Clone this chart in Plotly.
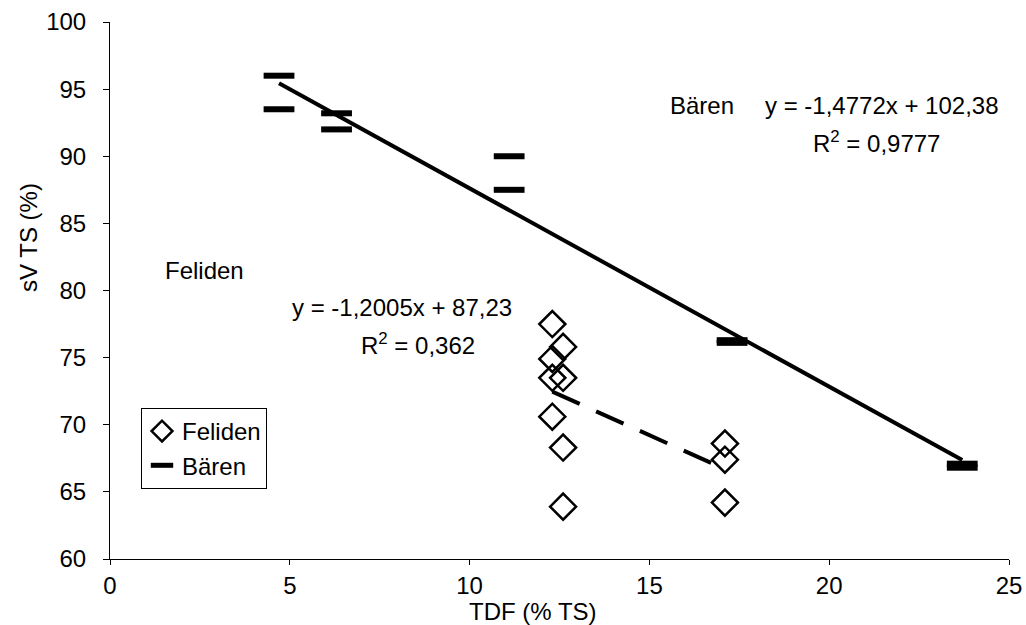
import plotly.graph_objects as go

# Feliden data
fel_x = [12.3, 12.6, 12.3, 12.3, 12.6, 12.3, 12.6, 12.6, 17.1, 17.1, 17.1]
fel_y = [77.5, 75.8, 74.9, 73.5, 73.5, 70.6, 68.3, 63.9, 68.6, 67.4, 64.2]

# Bären data
bar_x = [4.7, 4.7, 6.3, 6.3, 11.1, 11.1, 17.3, 17.3, 23.7, 23.7]
bar_y = [96.0, 93.5, 93.2, 92.0, 90.0, 87.5, 76.1, 76.3, 66.8, 67.1]

# trendline coefficients (from chart labels)
fel_slope, fel_icpt = -1.2005, 87.23
bar_slope, bar_icpt = -1.4772, 102.38

x_ticks = [0, 5, 10, 15, 20, 25]
y_ticks = [60, 65, 70, 75, 80, 85, 90, 95, 100]

x_title = "TDF (% TS)"
y_title = "sV TS (%)"

FONT = "Liberation Sans, Arial, sans-serif"
FS = 24

L, R, T, B = 110, 17, 22, 66
W, H = 1026, 625

fig = go.Figure()

bx = [min(bar_x), max(bar_x)]
fig.add_trace(go.Scatter(x=bx, y=[bar_slope * v + bar_icpt for v in bx], mode="lines",
                         line=dict(color="black", width=4), showlegend=False, hoverinfo="skip"))
fx = [min(fel_x), max(fel_x)]
fig.add_trace(go.Scatter(x=fx, y=[fel_slope * v + fel_icpt for v in fx], mode="lines",
                         line=dict(color="black", width=4, dash="30px,18px"), showlegend=False,
                         hoverinfo="skip"))

fig.add_trace(go.Scatter(x=fel_x, y=fel_y, mode="markers", name="Feliden",
                         marker=dict(symbol="diamond-open", size=20, color="black",
                                     line=dict(color="black", width=2.5))))
fig.add_trace(go.Scatter(x=bar_x, y=bar_y, mode="markers", name="Bären",
                         marker=dict(symbol="line-ew", size=22, color="black",
                                     line=dict(color="black", width=6))))

pw = W - L - R
ph = H - T - B


def px2x(px):
    return (px - L) / pw * 25


def py2y(py):
    return 100 - (py - T) / ph * 40


ann = [
    ("Bären", 668, 105, "left"),
    ("y = -1,4772x + 102,38", 763, 105, "left"),
    ("R<sup>2</sup> = 0,9777", 876, 142, "center"),
    ("Feliden", 163, 270, "left"),
    ("y = -1,2005x + 87,23", 290, 307, "left"),
    ("R<sup>2</sup> = 0,362", 418, 344, "center"),
]
for t, px, py, anc in ann:
    fig.add_annotation(x=px2x(px), y=py2y(py), text=t, showarrow=False, xanchor=anc,
                       yanchor="middle", font=dict(size=FS, color="black", family=FONT))

# axis titles (placed like the reference)
fig.add_annotation(xref="paper", yref="paper", x=(533 - L) / pw, y=(H - B - 611) / ph,
                   text=x_title, showarrow=False, xanchor="center", yanchor="middle",
                   font=dict(size=FS, color="black", family=FONT))
fig.add_annotation(xref="paper", yref="paper", x=(28 - L) / pw, y=(H - B - 238) / ph,
                   text=y_title, showarrow=False, xanchor="center", yanchor="middle",
                   textangle=-90, font=dict(size=FS, color="black", family=FONT))

fig.update_layout(
    width=W, height=H,
    margin=dict(l=L, r=R, t=T, b=B),
    paper_bgcolor="white", plot_bgcolor="white",
    font=dict(family=FONT, size=FS, color="black"),
    legend=dict(x=(141 - L) / pw, y=(H - B - 408) / ph, xanchor="left", yanchor="top",
                bordercolor="black", borderwidth=1, bgcolor="white",
                font=dict(size=FS), itemwidth=30, tracegroupgap=0),
)
fig.update_xaxes(range=[0, 25], tickvals=x_ticks, showgrid=False, zeroline=False,
                 showline=True, linecolor="black", linewidth=1, ticks="outside",
                 ticklen=5, tickcolor="black", automargin=False,
                 tickfont=dict(size=FS))
fig.update_yaxes(range=[60, 100], tickvals=y_ticks, showgrid=False, zeroline=False,
                 showline=True, linecolor="black", linewidth=1, ticks="outside",
                 ticklen=6, tickcolor="black", automargin=False, ticklabelstandoff=12,
                 tickfont=dict(size=FS))

fig.write_html("out.html")
